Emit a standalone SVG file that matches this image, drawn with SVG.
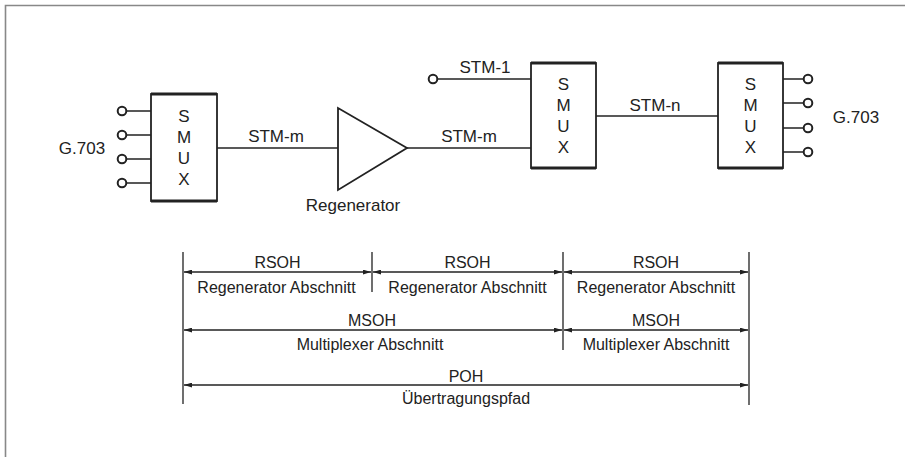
<svg xmlns="http://www.w3.org/2000/svg" width="905" height="457" viewBox="0 0 905 457">
<defs>
<style>
.t{font-family:"Liberation Sans",Arial,sans-serif;font-size:17px;fill:#222}
.s{font-family:"Liberation Sans",Arial,sans-serif;font-size:16px;fill:#222}
.box{fill:#fff;stroke:#222;stroke-width:1.8}
.edge{stroke:#222;stroke-width:3.2}
.ln{stroke:#222;stroke-width:1.6;fill:none}
.pin{fill:#fff;stroke:#222;stroke-width:2}
.dim{stroke:#222;stroke-width:1.4;fill:none;marker-start:url(#ah);marker-end:url(#ah)}
.tick{stroke:#222;stroke-width:1.3}
</style>
<marker id="ah" viewBox="0 0 10 6" refX="10" refY="3" markerWidth="8" markerHeight="5" markerUnits="userSpaceOnUse" orient="auto-start-reverse">
<path d="M0,0 L10,3 L0,6 Z" fill="#222"/>
</marker>
</defs>
<rect width="905" height="457" fill="#fff"/>
<path d="M5.5,457 V5.5 H905" fill="none" stroke="#888" stroke-width="1.6"/>

<g id="connectors">
<path class="ln" d="M126,111 H151 M126,135 H151 M126,159 H151 M126,183 H151"/>
<path class="ln" d="M217,148 H338"/>
<path class="ln" d="M407,148 H531"/>
<path class="ln" d="M437,79 H531"/>
<path class="ln" d="M596,116 H718"/>
<path class="ln" d="M783,79 H804 M783,103 H804 M783,128 H804 M783,152 H804"/>
<text class="t" x="276" y="142" text-anchor="middle">STM-m</text>
<text class="t" x="469" y="142" text-anchor="middle">STM-m</text>
<text class="t" x="485" y="73" text-anchor="middle">STM-1</text>
<text class="t" x="655" y="111" text-anchor="middle">STM-n</text>
</g>

<g id="g703-left">
<circle class="pin" cx="122" cy="111" r="4.3"/>
<circle class="pin" cx="122" cy="135" r="4.3"/>
<circle class="pin" cx="122" cy="159" r="4.3"/>
<circle class="pin" cx="122" cy="183" r="4.3"/>
<text class="t" x="82" y="154" text-anchor="middle">G.703</text>
</g>

<g id="smux1">
<rect class="box" x="151" y="94" width="66" height="107"/>
<path class="edge" d="M151,94 H217 M151,201 H217"/>
<g class="t" text-anchor="middle">
<text x="184" y="122">S</text><text x="184" y="143">M</text><text x="184" y="164">U</text><text x="184" y="185">X</text>
</g>
</g>

<g id="regenerator">
<path d="M338,108 L338,190 L407,148 Z" fill="#fff" stroke="#222" stroke-width="1.8" stroke-linejoin="miter"/>
<text class="t" x="353" y="211" text-anchor="middle">Regenerator</text>
</g>

<g id="stm1-in">
<circle class="pin" cx="433" cy="79" r="4.3"/>
</g>

<g id="smux2">
<rect class="box" x="531" y="63" width="65" height="105"/>
<path class="edge" d="M531,63 H596 M531,168 H596"/>
<g class="t" text-anchor="middle">
<text x="563.5" y="90">S</text><text x="563.5" y="111">M</text><text x="563.5" y="132">U</text><text x="563.5" y="153">X</text>
</g>
</g>

<g id="smux3">
<rect class="box" x="718" y="63" width="65" height="105"/>
<path class="edge" d="M718,63 H783 M718,168 H783"/>
<g class="t" text-anchor="middle">
<text x="750.5" y="90">S</text><text x="750.5" y="111">M</text><text x="750.5" y="132">U</text><text x="750.5" y="153">X</text>
</g>
</g>

<g id="g703-right">
<circle class="pin" cx="808" cy="79" r="4.3"/>
<circle class="pin" cx="808" cy="103" r="4.3"/>
<circle class="pin" cx="808" cy="128" r="4.3"/>
<circle class="pin" cx="808" cy="152" r="4.3"/>
<text class="t" x="856" y="123" text-anchor="middle">G.703</text>
</g>

<g id="sections">
<path class="tick" d="M183,252 V404 M372,252 V292 M563,252 V350 M749,252 V405"/>
<path class="dim" d="M184,272 H371"/>
<path class="dim" d="M373,272 H562"/>
<path class="dim" d="M564,272 H748"/>
<path class="dim" d="M184,330 H562"/>
<path class="dim" d="M564,330 H748"/>
<path class="dim" d="M184,385 H748"/>
<g class="s" text-anchor="middle">
<text x="277.5" y="268">RSOH</text>
<text x="467.5" y="268">RSOH</text>
<text x="656" y="268">RSOH</text>
<text x="276.5" y="293">Regenerator Abschnitt</text>
<text x="467.5" y="293">Regenerator Abschnitt</text>
<text x="656" y="293">Regenerator Abschnitt</text>
<text x="372" y="326">MSOH</text>
<text x="656" y="326">MSOH</text>
<text x="370" y="350">Multiplexer Abschnitt</text>
<text x="656" y="350">Multiplexer Abschnitt</text>
<text x="466" y="382">POH</text>
<text x="466" y="404">Übertragungspfad</text>
</g>
</g>
</svg>
